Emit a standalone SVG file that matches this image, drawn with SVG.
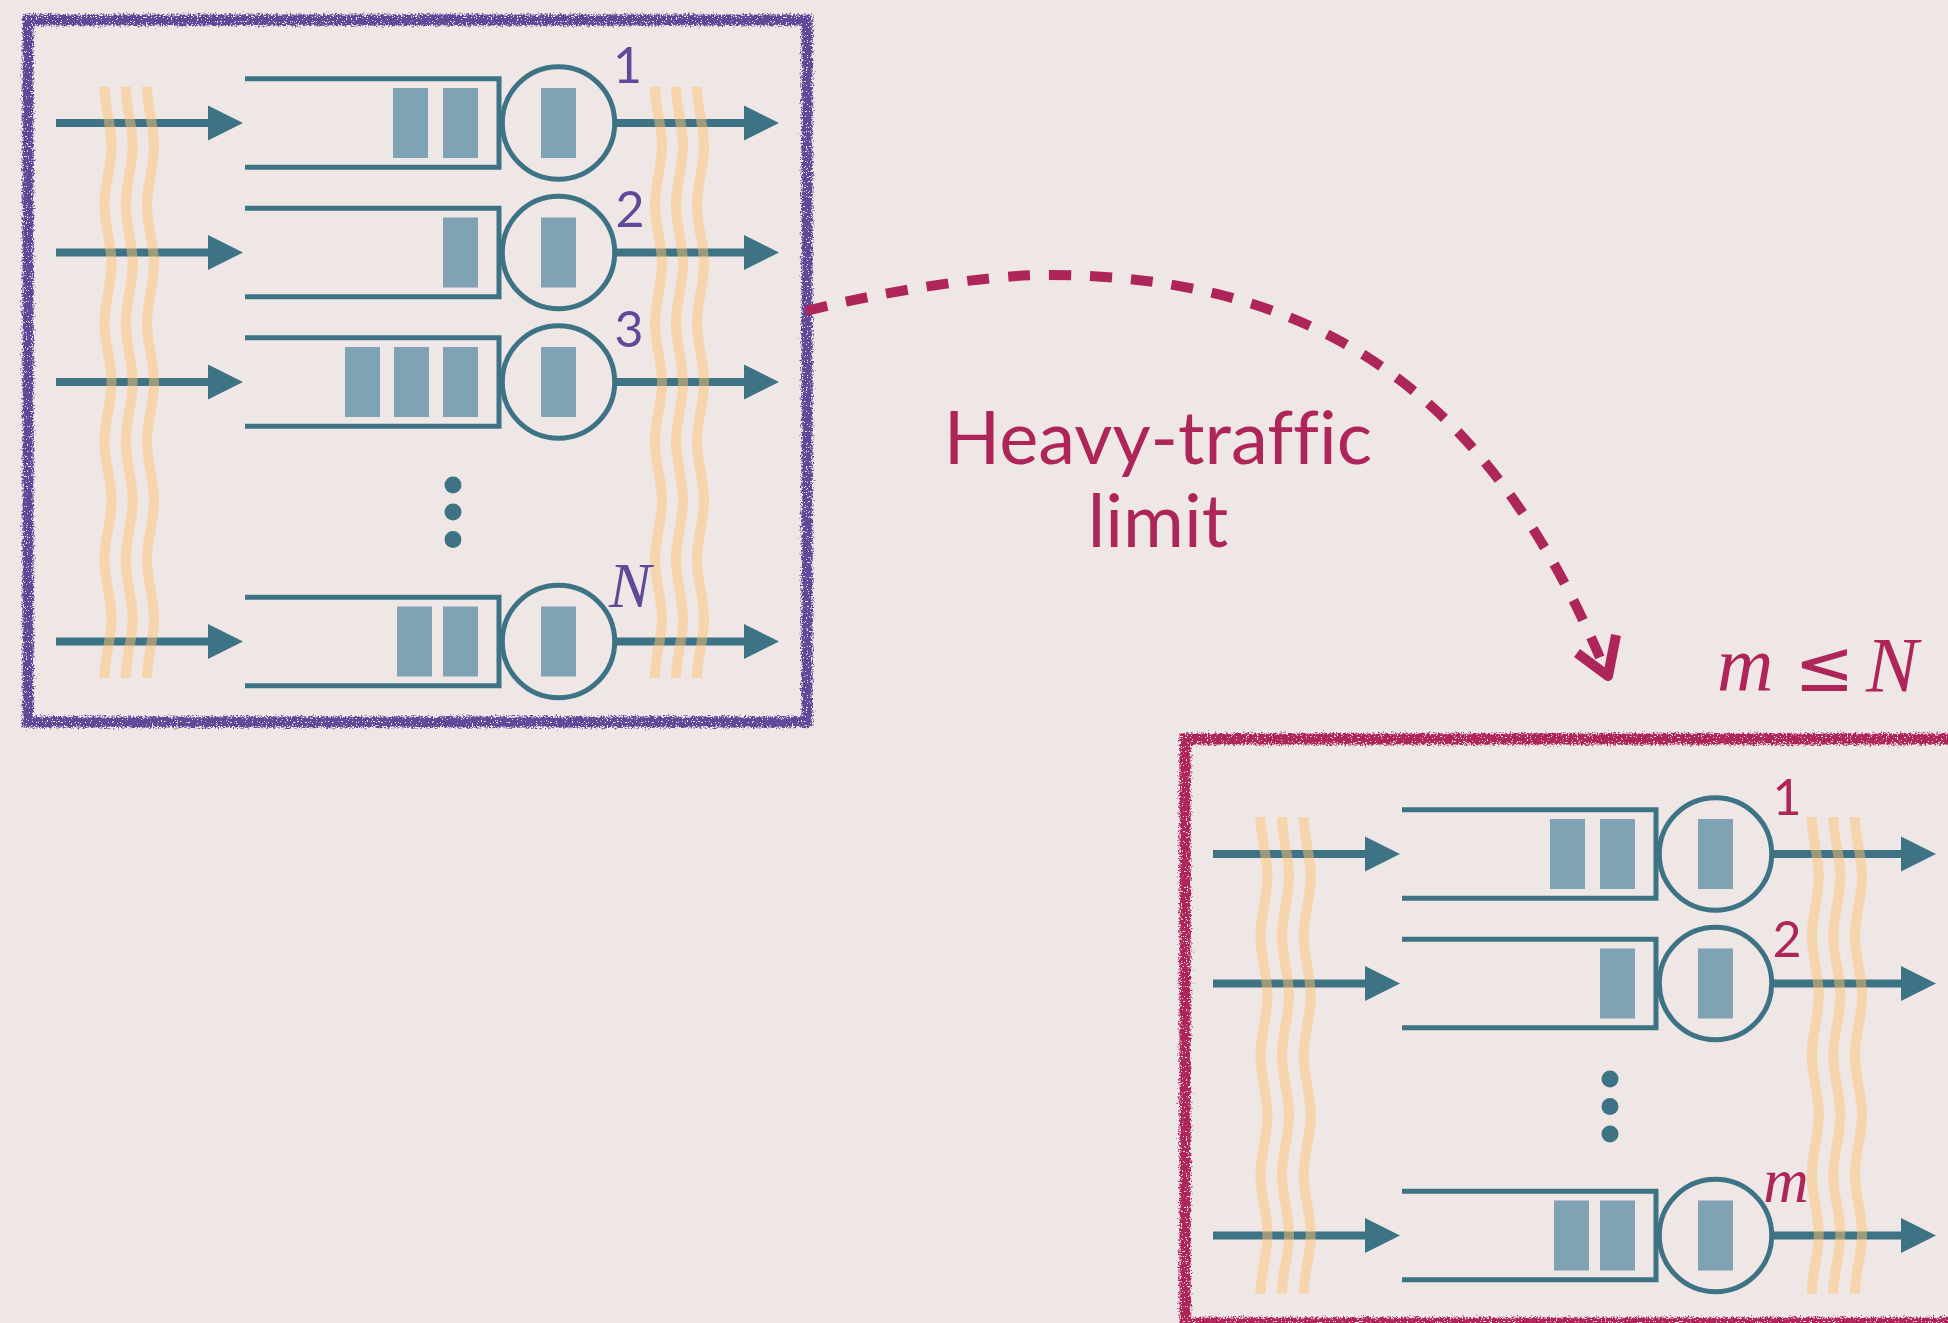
<svg xmlns="http://www.w3.org/2000/svg" xmlns:xlink="http://www.w3.org/1999/xlink" width="1948" height="1323" viewBox="0 0 1948 1323">
  <style>
    .flow { stroke: #3d7384; stroke-width: 8; fill: none; }
    .head { fill: #3d7384; }
    .queue { stroke: #3d7384; stroke-width: 5; fill: none; stroke-linejoin: miter; }
    .server { stroke: #3d7384; stroke-width: 5; fill: none; }
    .job { fill: #7fa2b5; }
    .dot { fill: #3d7384; }
    .wave { stroke: #fdc173; stroke-opacity: 0.5; stroke-width: 10; fill: none; }
    .num { font-family: Lato, "Liberation Sans", sans-serif; font-size: 50px; text-anchor: middle; }
    .var { font-family: "Liberation Serif", "DejaVu Serif", serif; font-style: italic; font-size: 63px; text-anchor: middle; }
    .purple { fill: #5e4a98; }
    .magenta { fill: #ae2659; }
    .frame { fill: none; stroke-width: 11; }
    .caption { font-family: Lato, "Liberation Sans", sans-serif; font-size: 74px; text-anchor: middle; fill: #ae2659; font-variant-ligatures: none; font-feature-settings: "liga" 0; }
  </style>
  <defs>
    <!-- rough chalk edge for the frames, with a few light specks -->
    <filter id="chalk" x="-3%" y="-3%" width="106%" height="106%">
      <feTurbulence type="fractalNoise" baseFrequency="0.6" numOctaves="3" seed="4" result="noise"/>
      <feDisplacementMap in="SourceGraphic" in2="noise" scale="8" xChannelSelector="R" yChannelSelector="G" result="rough"/>
      <feTurbulence type="fractalNoise" baseFrequency="0.8" numOctaves="1" seed="11" result="grain"/>
      <feColorMatrix in="grain" type="matrix" values="0 0 0 0 0  0 0 0 0 0  0 0 0 0 0  -40 0 0 0 27" result="mask"/>
      <feComposite in="rough" in2="mask" operator="in"/>
    </filter>
    <!-- one queue lane: arrival arrow, buffer, server, departure arrow -->
    <g id="lane">
      <line class="flow" x1="56" y1="0" x2="210" y2="0"/>
      <path class="head" d="M208,-17.5 L243,0 L208,17.5 Z"/>
      <path class="queue" d="M245,-44.3 H499 V44.3 H245"/>
      <circle class="server" cx="558.5" cy="0" r="56.2"/>
      <rect class="job" x="541" y="-35" width="35" height="70"/>
      <line class="flow" x1="614" y1="0" x2="746" y2="0"/>
      <path class="head" d="M744,-17.5 L779,0 L744,17.5 Z"/>
    </g>
    <!-- wavy correlation lines -->
    <path id="wave-tall" d="M0,0 c0,21.5 7,37.6 7,59.13 s-7,37.6 -7,59.13 s7,37.6 7,59.13 s-7,37.6 -7,59.13 s7,37.6 7,59.13 s-7,37.6 -7,59.13 s7,37.6 7,59.13 s-7,37.6 -7,59.13 s7,37.6 7,59.13 s-7,37.6 -7,59.13"/>
    <path id="wave-short" d="M0,0 c0,21.7 7,37.9 7,59.6 s-7,37.9 -7,59.6 s7,37.9 7,59.6 s-7,37.9 -7,59.6 s7,37.9 7,59.6 s-7,37.9 -7,59.6 s7,37.9 7,59.6 s-7,37.9 -7,59.6"/>
  </defs>

  <rect width="1948" height="1323" fill="#efe7e5"/>

  <!-- N-server system -->
  <g id="system-n">
    <rect class="frame" x="28" y="20" width="779" height="702" stroke="#5e4a98" filter="url(#chalk)"/>
    <g id="queue-1" transform="translate(0,123)">
      <use xlink:href="#lane"/>
      <rect class="job" x="393" y="-35" width="35" height="70"/>
      <rect class="job" x="443" y="-35" width="35" height="70"/>
    </g>
    <g id="queue-2" transform="translate(0,252.5)">
      <use xlink:href="#lane"/>
      <rect class="job" x="443" y="-35" width="35" height="70"/>
    </g>
    <g id="queue-3" transform="translate(0,382)">
      <use xlink:href="#lane"/>
      <rect class="job" x="345" y="-35" width="35" height="70"/>
      <rect class="job" x="394" y="-35" width="35" height="70"/>
      <rect class="job" x="443" y="-35" width="35" height="70"/>
    </g>
    <g id="queue-N" transform="translate(0,641.5)">
      <use xlink:href="#lane"/>
      <rect class="job" x="397" y="-35" width="35" height="70"/>
      <rect class="job" x="443" y="-35" width="35" height="70"/>
    </g>
    <circle class="dot" cx="453" cy="485" r="8.5"/>
    <circle class="dot" cx="453" cy="512" r="8.5"/>
    <circle class="dot" cx="453" cy="539.5" r="8.5"/>
    <g id="waves-n">
      <use xlink:href="#wave-tall" class="wave" x="104.5" y="86.7"/>
      <use xlink:href="#wave-tall" class="wave" x="125.7" y="86.7"/>
      <use xlink:href="#wave-tall" class="wave" x="147" y="86.7"/>
      <use xlink:href="#wave-tall" class="wave" x="655" y="86.7"/>
      <use xlink:href="#wave-tall" class="wave" x="676" y="86.7"/>
      <use xlink:href="#wave-tall" class="wave" x="697" y="86.7"/>
    </g>
    <text class="num purple" x="627.5" y="83">1</text>
    <text class="num purple" x="630" y="226.7">2</text>
    <text class="num purple" x="629" y="347">3</text>
    <text class="var purple" x="630" y="607">N</text>
  </g>

  <!-- m-server system after the limit -->
  <g id="system-m">
    <rect class="frame" x="1185" y="739" width="820" height="584" stroke="#ae2659" filter="url(#chalk)"/>
    <g transform="translate(1157,731)">
      <g id="queue-m1" transform="translate(0,123)">
        <use xlink:href="#lane"/>
        <rect class="job" x="393" y="-35" width="35" height="70"/>
        <rect class="job" x="443" y="-35" width="35" height="70"/>
      </g>
      <g id="queue-m2" transform="translate(0,252.5)">
        <use xlink:href="#lane"/>
        <rect class="job" x="443" y="-35" width="35" height="70"/>
      </g>
      <g id="queue-mm" transform="translate(0,504.5)">
        <use xlink:href="#lane"/>
        <rect class="job" x="397" y="-35" width="35" height="70"/>
        <rect class="job" x="443" y="-35" width="35" height="70"/>
      </g>
      <circle class="dot" cx="453" cy="348" r="8.5"/>
      <circle class="dot" cx="453" cy="375.5" r="8.5"/>
      <circle class="dot" cx="453" cy="403" r="8.5"/>
      <g id="waves-m">
        <use xlink:href="#wave-short" class="wave" x="103.5" y="86"/>
        <use xlink:href="#wave-short" class="wave" x="125" y="86"/>
        <use xlink:href="#wave-short" class="wave" x="146.7" y="86"/>
        <use xlink:href="#wave-short" class="wave" x="654.8" y="86"/>
        <use xlink:href="#wave-short" class="wave" x="676.3" y="86"/>
        <use xlink:href="#wave-short" class="wave" x="698" y="86"/>
      </g>
      <text class="num magenta" x="630" y="84">1</text>
      <text class="num magenta" x="630" y="226">2</text>
      <text class="var magenta" x="629" y="470.5">m</text>
    </g>
  </g>

  <!-- limit transition -->
  <g id="connectors">
    <path d="M806,311 C868,295 980,275 1046,275 C1326,275 1494,401 1606,672" fill="none" stroke="#ae2659" stroke-width="10" stroke-dasharray="22 19"/>
    <path d="M1577,653 L1608,676 L1616,635" fill="none" stroke="#ae2659" stroke-width="10" stroke-linejoin="round"/>
  </g>

  <g id="labels">
    <text class="caption" x="1158" y="464">Heavy-traffic</text>
    <text class="caption" x="1158" y="547.3">limit</text>
    <text font-family="'Liberation Serif', 'DejaVu Serif', serif" font-size="78" fill="#ae2659" y="691">
      <tspan x="1717" font-style="italic">m</tspan><tspan x="1794" font-family="'DejaVu Sans', sans-serif" font-size="72">≤</tspan><tspan x="1866" font-style="italic">N</tspan>
    </text>
  </g>
</svg>
